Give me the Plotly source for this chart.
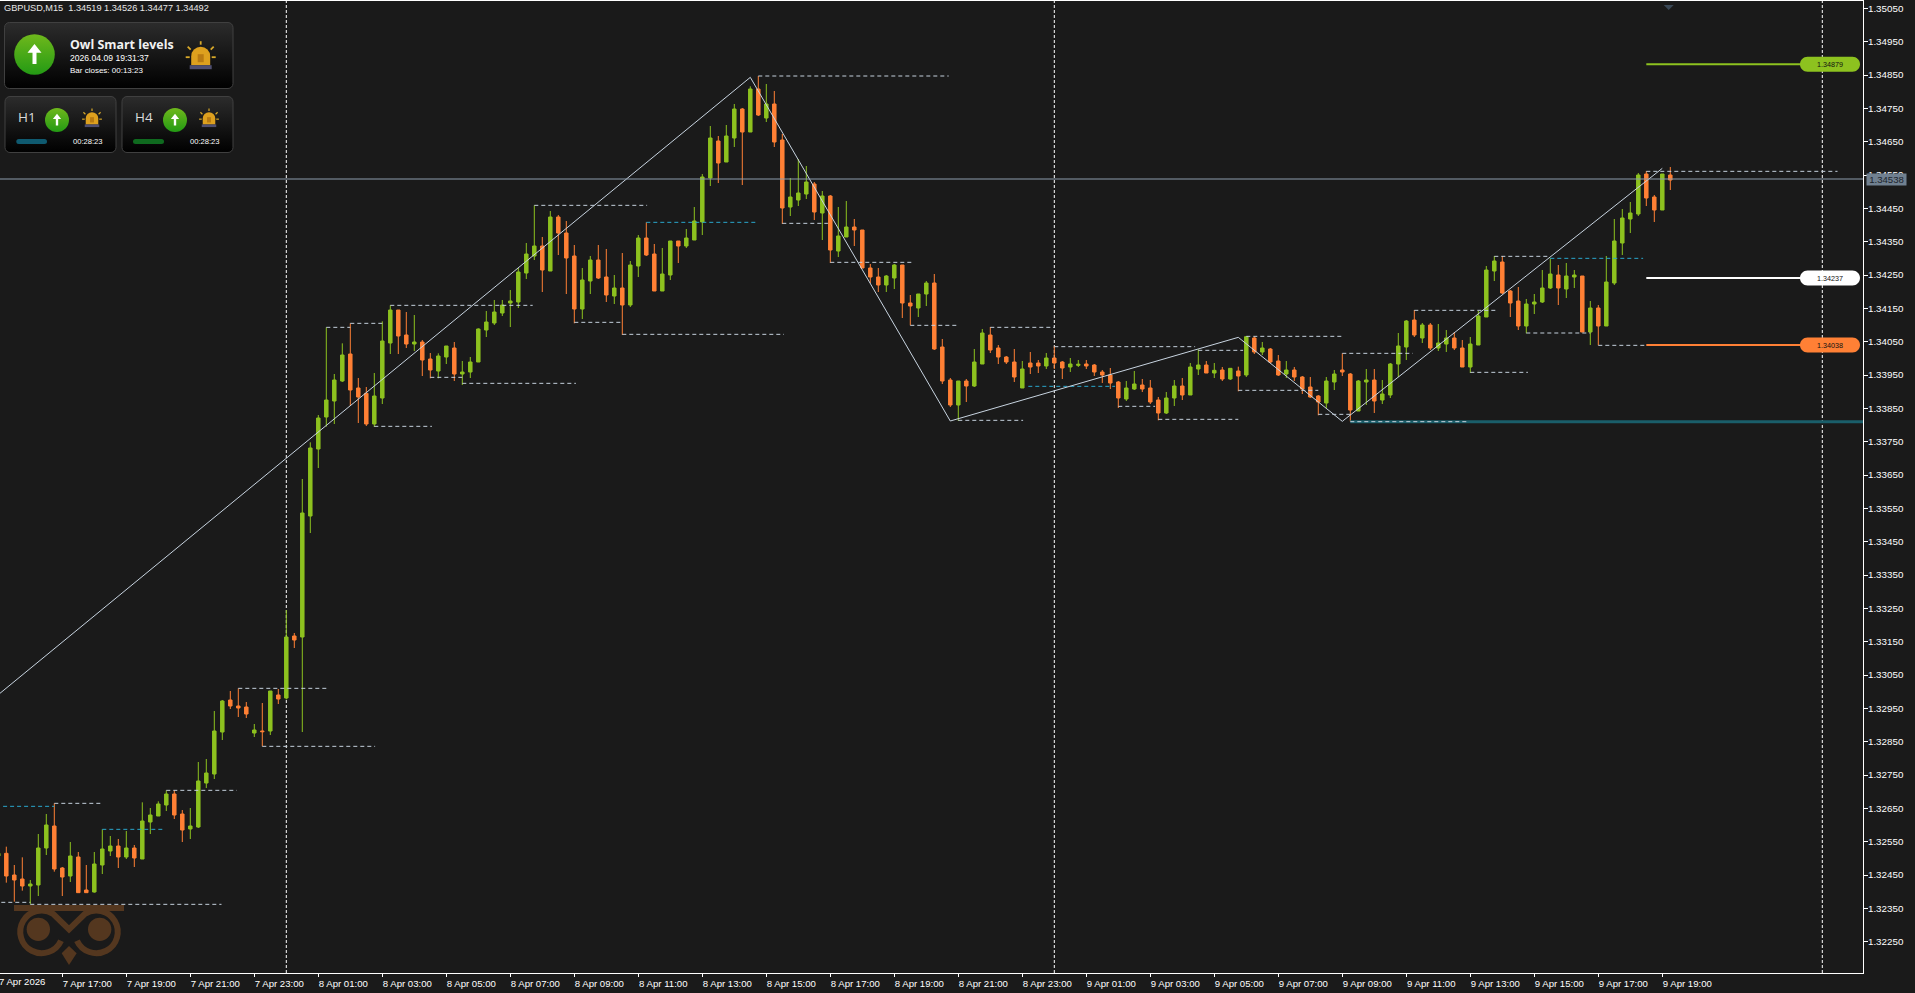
import base64
import pandas as pd
import plotly.graph_objects as go

# ---------- data (GBPUSD M15 bars, first bar 7 Apr 15:00) ----------
opens = [1.32507,1.32515,1.32450,1.32438,1.32417,1.32420,1.32531,1.32597,1.32471,1.32447,1.32504,1.32405,1.32399,1.32480,1.32522,1.32537,1.32504,1.32531,1.32498,1.32609,1.32627,1.32660,1.32693,1.32633,1.32588,1.32594,1.32726,1.32753,1.32879,1.32975,1.32957,1.32954,1.32876,1.32882,1.32882,1.32990,
1.32981,1.33167,1.33164,1.33527,
1.33728,1.33824,1.33872,1.33932,1.34013,1.33911,1.33895,1.33803,1.33881,1.34046,1.34145,1.34070,1.34043,1.34049,1.33998,1.33962,1.34004,1.34031,1.33953,1.33959,1.33989,1.34085,1.34106,1.34136,1.34166,
1.34169,1.34256,1.34307,1.34337,1.34262,1.34424,1.34376,1.34307,1.34148,1.34232,1.34295,1.34244,1.34187,1.34211,1.34160,1.34277,1.34361,1.34313,1.34202,1.34250,1.34352,1.34337,1.34355,1.34409,1.34541,1.34652,1.34589,1.34661,1.34748,1.34679,1.34808,1.34721,1.34763,1.34655,1.34454,1.34475,1.34493,1.34523,1.34436,1.34487,
1.34322,1.34364,1.34394,1.34385,1.34271,1.34244,1.34220,1.34241,1.34280,1.34166,1.34151,1.34193,1.34226,1.34034,1.33935,1.33860,1.33932,1.33917,1.33983,1.34070,1.34031,1.34004,1.33989,1.33911,1.33986,1.33986,1.33977,1.34001,1.33989,1.33974,1.33979,1.33983,1.33980,1.33959,1.33950,1.33929,1.33878,1.33908,1.33920,1.33911,
1.33875,1.33836,1.33881,1.33917,1.33890,1.33968,1.33980,1.33956,1.33965,1.33938,1.33962,1.33950,1.34061,1.34019,1.34028,1.33992,1.33953,1.33965,1.33944,1.33914,1.33887,1.33866,1.33929,1.33965,1.33953,1.33842,1.33929,1.33935,1.33875,1.33890,1.33983,1.34034,1.34115,1.34061,1.34100,1.34031,1.34043,1.34061,1.34031,
1.33974,1.34040,1.34124,1.34262,1.34289,1.34202,1.34172,1.34097,1.34163,1.34169,1.34211,1.34250,1.34208,1.34244,1.34247,1.34079,1.34151,1.34097,1.34226,1.34346,1.34418,1.34433,1.34553,1.34484,1.34445,1.34550]
highs = [1.32519,1.32535,1.32480,1.32503,1.32435,1.32573,1.32633,1.32665,1.32474,1.32549,1.32519,1.32480,1.32519,1.32587,1.32567,1.32558,1.32582,1.32540,1.32668,1.32651,1.32671,1.32704,1.32704,1.32645,1.32651,1.32789,1.32798,1.32942,1.32975,1.33002,1.33010,1.32969,1.32903,1.32966,1.33002,1.33008,
1.33245,1.33176,1.33638,1.33748,
1.33830,1.34093,1.33953,1.34045,1.34105,1.33941,1.33914,1.33956,1.34111,1.34159,1.34145,1.34139,1.34130,1.34055,1.34016,1.34015,1.34037,1.34049,1.33992,1.34004,1.34090,1.34142,1.34175,1.34175,1.34205,
1.34271,1.34346,1.34459,1.34364,1.34442,1.34430,1.34412,1.34340,1.34271,1.34307,1.34340,1.34328,1.34250,1.34316,1.34292,1.34370,1.34408,1.34343,1.34331,1.34352,1.34352,1.34388,1.34454,1.34553,1.34697,1.34667,1.34700,1.34763,1.34751,1.34816,1.34847,1.34823,1.34802,1.34673,1.34541,1.34598,1.34577,1.34529,1.34502,1.34490,
1.34454,1.34472,1.34418,1.34385,1.34283,1.34271,1.34250,1.34283,1.34280,1.34190,1.34193,1.34232,1.34253,1.34058,1.33941,1.33932,1.33938,1.34028,1.34088,1.34094,1.34040,1.34007,1.34028,1.33992,1.34019,1.33995,1.34016,1.34037,1.33992,1.34001,1.33995,1.33995,1.33983,1.33965,1.33971,1.33932,1.33932,1.33962,1.33938,1.33935,
1.33884,1.33899,1.33935,1.33941,1.33986,1.34027,1.33992,1.33986,1.33974,1.33971,1.33975,1.34067,1.34065,1.34049,1.34031,1.34010,1.33992,1.33974,1.33947,1.33944,1.33890,1.33944,1.33965,1.34015,1.33956,1.33935,1.33968,1.33968,1.33935,1.33986,1.34076,1.34115,1.34145,1.34106,1.34106,1.34103,1.34085,1.34079,1.34055,
1.34064,1.34142,1.34277,1.34307,1.34307,1.34205,1.34214,1.34178,1.34193,1.34265,1.34300,1.34280,1.34286,1.34265,1.34247,1.34172,1.34160,1.34307,1.34418,1.34448,1.34469,1.34556,1.34562,1.34490,1.34553,1.34574]
lows = [1.32455,1.32427,1.32370,1.32403,1.32362,1.32387,1.32510,1.32460,1.32387,1.32429,1.32397,1.32397,1.32397,1.32453,1.32507,1.32471,1.32498,1.32474,1.32498,1.32573,1.32627,1.32642,1.32618,1.32549,1.32558,1.32591,1.32711,1.32738,1.32855,1.32948,1.32924,1.32921,1.32864,1.32836,1.32870,1.32963,
1.32977,1.33131,1.32879,1.33476,
1.33671,1.33795,1.33803,1.33929,1.33857,1.33806,1.33797,1.33794,1.33863,1.34013,1.34013,1.34031,1.34022,1.33947,1.33940,1.33940,1.33983,1.33932,1.33920,1.33941,1.33989,1.34064,1.34100,1.34127,1.34094,
1.34151,1.34238,1.34295,1.34199,1.34262,1.34310,1.34193,1.34105,1.34118,1.34193,1.34238,1.34169,1.34163,1.34070,1.34154,1.34244,1.34307,1.34202,1.34202,1.34235,1.34286,1.34331,1.34355,1.34370,1.34517,1.34526,1.34589,1.34634,1.34520,1.34679,1.34727,1.34709,1.34634,1.34403,1.34427,1.34457,1.34478,1.34415,1.34355,1.34286,
1.34304,1.34364,1.34337,1.34271,1.34226,1.34199,1.34199,1.34208,1.34121,1.34099,1.34124,1.34157,1.34025,1.33923,1.33854,1.33812,1.33869,1.33914,1.33983,1.34016,1.33983,1.33983,1.33929,1.33911,1.33953,1.33956,1.33968,1.33968,1.33938,1.33959,1.33974,1.33968,1.33947,1.33926,1.33908,1.33851,1.33872,1.33905,1.33899,1.33863,
1.33814,1.33833,1.33857,1.33875,1.33890,1.33950,1.33956,1.33941,1.33932,1.33935,1.33901,1.33944,1.34013,1.34010,1.33986,1.33947,1.33941,1.33932,1.33893,1.33881,1.33829,1.33851,1.33905,1.33947,1.33811,1.33842,1.33860,1.33836,1.33863,1.33881,1.33944,1.33995,1.34064,1.34046,1.34025,1.34022,1.34019,1.34025,1.33974,
1.33956,1.34040,1.34124,1.34232,1.34193,1.34124,1.34085,1.34075,1.34133,1.34166,1.34208,1.34160,1.34181,1.34211,1.34079,1.34040,1.34039,1.34097,1.34220,1.34310,1.34376,1.34427,1.34457,1.34409,1.34445,1.34505]
closes = [1.32515,1.32447,1.32435,1.32417,1.32423,1.32531,1.32600,1.32468,1.32444,1.32507,1.32397,1.32397,1.32483,1.32528,1.32537,1.32504,1.32531,1.32501,1.32612,1.32630,1.32663,1.32693,1.32630,1.32585,1.32597,1.32732,1.32756,1.32882,1.32972,1.32957,1.32951,1.32933,1.32885,1.32880,1.33002,1.32978,
1.33164,1.33155,1.33536,1.33731,
1.33821,1.33875,1.33935,1.34010,1.33905,1.33884,1.33803,1.33887,1.34052,1.34145,1.34067,1.34043,1.34049,1.33995,1.33965,1.34007,1.34037,1.33953,1.33959,1.33989,1.34088,1.34109,1.34139,1.34160,1.34172,
1.34259,1.34313,1.34337,1.34265,1.34424,1.34376,1.34301,1.34148,1.34235,1.34295,1.34241,1.34190,1.34211,1.34160,1.34280,1.34361,1.34310,1.34202,1.34253,1.34352,1.34337,1.34361,1.34412,1.34544,1.34661,1.34586,1.34667,1.34748,1.34679,1.34808,1.34730,1.34763,1.34649,1.34451,1.34484,1.34496,1.34529,1.34439,1.34487,1.34325,
1.34367,1.34394,1.34385,1.34271,1.34244,1.34220,1.34247,1.34280,1.34166,1.34157,1.34193,1.34226,1.34028,1.33932,1.33860,1.33932,1.33917,1.33989,1.34076,1.34025,1.34004,1.33989,1.33944,1.33968,1.33974,1.33977,1.34001,1.33986,1.33971,1.33983,1.33982,1.33977,1.33959,1.33950,1.33926,1.33881,1.33911,1.33923,1.33908,1.33869,
1.33836,1.33881,1.33917,1.33890,1.33974,1.33980,1.33956,1.33964,1.33938,1.33970,1.33947,1.34065,1.34019,1.34031,1.33989,1.33950,1.33965,1.33944,1.33908,1.33884,1.33869,1.33932,1.33953,1.33959,1.33845,1.33932,1.33935,1.33872,1.33893,1.33983,1.34037,1.34112,1.34070,1.34100,1.34031,1.34046,1.34061,1.34031,1.33974,
1.34043,1.34127,1.34265,1.34292,1.34196,1.34166,1.34097,1.34163,1.34169,1.34211,1.34253,1.34211,1.34247,1.34250,1.34079,1.34151,1.34097,1.34229,1.34352,1.34421,1.34436,1.34550,1.34481,1.34445,1.34553,1.34535]

# zigzag: bar number (first bar counted as -1) and price
zigzag_bars = [-1, 93, 118, 154, 167, 207]
zigzag_prices = [1.32991, 1.34843, 1.33812, 1.34063, 1.33811, 1.34570]

# dashed swing levels: start bar, end bar, price
level_starts = [-5, 3, 6, 20, 29, 32, 40, 43, 48, 46, 53, 57, 71, 66, 77, 94, 97, 103, 113, 119, 123, 131, 139, 149, 155, 154, 144, 164, 167, 176, 183, 186, 190, 199, 205, 168]
level_ends = [3, 26.9, 11.8, 28.8, 40.1, 46.1, 43, 47.1, 65.8, 53.2, 57, 71.2, 76.8, 80.1, 97.2, 117.8, 102.7, 113.2, 118.8, 127.1, 131, 148.6, 143.6, 154.6, 166.9, 164, 154, 168, 175.8, 186.2, 190.2, 193, 198, 205, 228.9, 182.8]
level_prices = [1.32368, 1.32362, 1.32665, 1.32704, 1.33010, 1.32836, 1.34093, 1.34105, 1.34159, 1.33796, 1.33943, 1.33925, 1.34108, 1.34459, 1.34072, 1.34847, 1.34405, 1.34288, 1.34099, 1.33814, 1.34093, 1.34035, 1.33856, 1.34024, 1.34066, 1.33904, 1.33817, 1.33832, 1.34015, 1.34144, 1.33958, 1.34306, 1.34076, 1.34039, 1.34561, 1.33810]
cyan_starts = [-0.4, 12, 80, 127.75, 193]
cyan_ends = [6, 19.84, 93.8, 138.6, 204.6]
cyan_prices = [1.32656, 1.32587, 1.34408, 1.33916, 1.34300]

# right-hand target levels
target_prices = [1.34882, 1.34241, 1.34040]
target_labels = ["1.34879", "1.34237", "1.34038"]
target_colors = ["#8DC21F", "#FFFFFF", "#FF8035"]
teal_price = 1.33810
current_price = 1.34538

tick_labels = ["7 Apr 17:00","7 Apr 19:00","7 Apr 21:00","7 Apr 23:00","8 Apr 01:00","8 Apr 03:00","8 Apr 05:00","8 Apr 07:00","8 Apr 09:00","8 Apr 11:00","8 Apr 13:00","8 Apr 15:00","8 Apr 17:00","8 Apr 19:00","8 Apr 21:00","8 Apr 23:00","9 Apr 01:00","9 Apr 03:00","9 Apr 05:00","9 Apr 07:00","9 Apr 09:00","9 Apr 11:00","9 Apr 13:00","9 Apr 15:00","9 Apr 17:00","9 Apr 19:00"]
tick_times = ["2026-04-07 17:00","2026-04-07 19:00","2026-04-07 21:00","2026-04-07 23:00","2026-04-08 01:00","2026-04-08 03:00","2026-04-08 05:00","2026-04-08 07:00","2026-04-08 09:00","2026-04-08 11:00","2026-04-08 13:00","2026-04-08 15:00","2026-04-08 17:00","2026-04-08 19:00","2026-04-08 21:00","2026-04-08 23:00","2026-04-09 01:00","2026-04-09 03:00","2026-04-09 05:00","2026-04-09 07:00","2026-04-09 09:00","2026-04-09 11:00","2026-04-09 13:00","2026-04-09 15:00","2026-04-09 17:00","2026-04-09 19:00"]
day_separators = ["2026-04-08 00:00", "2026-04-09 00:00", "2026-04-10 00:00"]

# ---------- layout constants ----------
W, H = 1915, 993
PL, PR, PT, PB = 0, 1863, 1, 973
BG = "#1A1A1A"
GREEN, ORANGE = "#8DC21F", "#FF8035"
LEVEL_COL, CYAN = "#C4D0DC", "#2AA6CC"
FONT = "Liberation Sans"


def bar_time(b):
    return pd.Timestamp("2026-04-07 15:15") + pd.Timedelta(minutes=15 * b)


def iso(b):
    return bar_time(b).strftime("%Y-%m-%d %H:%M:%S")


def px(x):
    return x / PR


def py(y):
    return (PB - y) / (PB - PT)


times = pd.date_range("2026-04-07 15:00", periods=len(opens), freq="15min")

fig = go.Figure()
fig.add_trace(go.Candlestick(
    x=times, open=opens, high=highs, low=lows, close=closes, whiskerwidth=0,
    increasing=dict(line=dict(color=GREEN, width=1), fillcolor=GREEN),
    decreasing=dict(line=dict(color=ORANGE, width=1), fillcolor=ORANGE),
    showlegend=False, hoverinfo="skip"))


def segments(starts, ends, prices):
    xs, ys = [], []
    for a, b, p in zip(starts, ends, prices):
        xs += [iso(a), iso(b), None]
        ys += [p, p, None]
    return xs, ys


# teal support line under the levels
fig.add_trace(go.Scatter(x=[iso(168), iso(240)], y=[teal_price] * 2, mode="lines",
                         line=dict(color="#1A5E6A", width=3), showlegend=False, hoverinfo="skip"))
lx, ly = segments(level_starts, level_ends, level_prices)
fig.add_trace(go.Scatter(x=lx, y=ly, mode="lines", line=dict(color=LEVEL_COL, width=1, dash="4px,3px"),
                         showlegend=False, hoverinfo="skip"))
cx, cy = segments(cyan_starts, cyan_ends, cyan_prices)
fig.add_trace(go.Scatter(x=cx, y=cy, mode="lines", line=dict(color=CYAN, width=1, dash="4px,3px"),
                         showlegend=False, hoverinfo="skip"))
fig.add_trace(go.Scatter(x=[iso(b) for b in zigzag_bars], y=zigzag_prices, mode="lines",
                         line=dict(color="#C8D4E0", width=1), showlegend=False, hoverinfo="skip"))
fig.add_trace(go.Scatter(x=[iso(-5), iso(240)], y=[current_price] * 2, mode="lines",
                         line=dict(color="#8C9CAC", width=1), showlegend=False, hoverinfo="skip"))
for p, col in zip(target_prices, target_colors):
    fig.add_trace(go.Scatter(x=[iso(205), iso(225)], y=[p, p], mode="lines",
                             line=dict(color=col, width=2), showlegend=False, hoverinfo="skip"))

shapes = []
for d in day_separators:
    shapes.append(dict(type="line", xref="x", yref="paper", x0=d, x1=d, y0=0, y1=1, layer="below",
                       line=dict(color="#FFFFFF", width=1, dash="3px,2px")))

PILL = ("M -22.5 -7.5 L 22.5 -7.5 C 26.6 -7.5 30 -4.1 30 0 C 30 4.1 26.6 7.5 22.5 7.5 "
        "L -22.5 7.5 C -26.6 7.5 -30 4.1 -30 0 C -30 -4.1 -26.6 -7.5 -22.5 -7.5 Z")
annotations = []
pill_bar = 227.96
for p, col, label in zip(target_prices, target_colors, target_labels):
    shapes.append(dict(type="path", xsizemode="pixel", ysizemode="pixel", xref="x", yref="y",
                       xanchor=iso(pill_bar), yanchor=p, path=PILL, fillcolor=col, line=dict(width=0), layer="above"))
    annotations.append(dict(x=iso(pill_bar), y=p, xref="x", yref="y", text=label, showarrow=False,
                            font=dict(family=FONT, size=7.2, color="#111111")))
# small marker at the top of the chart
shapes.append(dict(type="path", xsizemode="pixel", ysizemode="pixel", xref="x", yref="y",
                   xanchor=iso(207.8), yanchor=1.35060, path="M -5 0 L 5 0 L 0 -5 Z",
                   fillcolor="#3A4856", line=dict(width=0), layer="above"))


def note(x, y, text, size, color="#FFFFFF", bold=False, family=FONT):
    annotations.append(dict(xref="paper", yref="paper", x=px(x), y=py(y), text=f"<b>{text}</b>" if bold else text,
                            showarrow=False, xanchor="left", yanchor="middle", align="left",
                            font=dict(family=family, size=size, color=color), xshift=0, borderpad=0))


note(3, 8.3, "GBPUSD,M15  1.34519 1.34526 1.34477 1.34492", 9.2, "#E6E6E6")
note(69, 44.3, "Owl Smart levels", 12.4, "#F2F2F2", True, "Open Sans")
note(69, 58, "2026.04.09 19:31:37", 8.6)
note(69, 71, "Bar closes: 00:13:23", 8)
note(17, 117, "H1", 13.5, "#DADADA", False, "Open Sans")
note(134, 117, "H4", 13.5, "#DADADA", False, "Open Sans")
note(71.5, 142, "00:28:23", 7.6)
note(189, 142, "00:28:23", 7.6)
note(-2, 981.5, "7 Apr 2026", 9.6, "#FFFFFF")
annotations.append(dict(xref="paper", yref="y", x=px(1866), y=current_price, text="1.34538", showarrow=False,
                        xanchor="left", yanchor="middle", width=39, height=11, align="center", borderpad=0,
                        bgcolor="#708090", font=dict(family=FONT, size=9.6, color="#1C242C")))


def beacon(cx, cy, s):
    ray = f'stroke="#D8A92A" stroke-width="{1.8*s}"'
    return (f'<path d="M{cx-9.5*s} {cy+9*s} L{cx-9.5*s} {cy} A{9.5*s} {9.5*s} 0 0 1 {cx+9.5*s} {cy} L{cx+9.5*s} {cy+9*s} Z" fill="#DDA01E"/>'
            f'<rect x="{cx-3*s}" y="{cy-2*s}" width="{6*s}" height="{8*s}" fill="#B87A12"/>'
            f'<rect x="{cx-11*s}" y="{cy+9*s}" width="{22*s}" height="{4*s}" fill="#4F4F70"/>'
            f'<line x1="{cx}" y1="{cy-15*s}" x2="{cx}" y2="{cy-11.5*s}" {ray}/>'
            f'<line x1="{cx-13*s}" y1="{cy-9.5*s}" x2="{cx-10*s}" y2="{cy-6.5*s}" {ray}/>'
            f'<line x1="{cx+13*s}" y1="{cy-9.5*s}" x2="{cx+10*s}" y2="{cy-6.5*s}" {ray}/>'
            f'<line x1="{cx-15*s}" y1="{cy+1*s}" x2="{cx-11*s}" y2="{cy+1*s}" {ray}/>'
            f'<line x1="{cx+15*s}" y1="{cy+1*s}" x2="{cx+11*s}" y2="{cy+1*s}" {ray}/>')


def arrow_circle(cx, cy, r):
    k = r / 20.3
    return (f'<circle cx="{cx}" cy="{cy}" r="{r}" fill="url(#g)"/>'
            f'<path d="M{cx} {cy-10.5*k} L{cx+7*k} {cy-1.8*k} L{cx+2*k} {cy-1.8*k} L{cx+2*k} {cy+9.5*k} '
            f'L{cx-2*k} {cy+9.5*k} L{cx-2*k} {cy-1.8*k} L{cx-7*k} {cy-1.8*k} Z" fill="#FFFFFF"/>')


panel_svg = (
    '<svg xmlns="http://www.w3.org/2000/svg" width="240" height="140" viewBox="0 20 240 140">'
    '<defs><linearGradient id="c" x1="0" y1="0" x2="0" y2="1"><stop offset="0" stop-color="#2C2C2C"/><stop offset="1" stop-color="#000000"/></linearGradient>'
    '<linearGradient id="g" x1="0" y1="0" x2="0" y2="1"><stop offset="0" stop-color="#6FB81C"/><stop offset="1" stop-color="#239A14"/></linearGradient></defs>'
    '<rect x="4.5" y="22.5" width="228.5" height="66" rx="5" fill="url(#c)" stroke="#404040"/>'
    '<rect x="5" y="96.5" width="111" height="56" rx="5" fill="url(#c)" stroke="#404040"/>'
    '<rect x="122" y="96.5" width="111" height="56" rx="5" fill="url(#c)" stroke="#404040"/>'
    + arrow_circle(34.5, 54.5, 20.3) + arrow_circle(57, 120, 12) + arrow_circle(175, 120, 12)
    + beacon(200.7, 56.2, 1) + beacon(92, 118.5, 0.66) + beacon(209, 118.5, 0.66)
    + '<rect x="16.3" y="139" width="30.7" height="5" rx="2.5" fill="#0F5A70"/>'
      '<rect x="133" y="139" width="31" height="5" rx="2.5" fill="#0F6A1F"/></svg>')

owl_svg = (
    '<svg xmlns="http://www.w3.org/2000/svg" width="110" height="60" viewBox="42 795 330 180">'
    '<rect x="42" y="795" width="330" height="18" fill="#54371F"/>'
    '<path d="M183 902 A64 64 0 1 1 160 822 L207 868 L254 822 A64 64 0 1 1 231 902" fill="none" stroke="#54371F" stroke-width="18"/>'
    '<circle cx="115" cy="868" r="35" fill="#54371F"/><circle cx="299" cy="868" r="35" fill="#54371F"/>'
    '<path d="M185 940 L207 918 L230 940 L207 975 Z" fill="#54371F"/></svg>')


def data_uri(svg):
    return "data:image/svg+xml;base64," + base64.b64encode(svg.encode()).decode()


images = [
    dict(source=data_uri(panel_svg), xref="paper", yref="paper", x=px(0), y=py(20), sizex=240 / PR,
         sizey=140 / (PB - PT), xanchor="left", yanchor="top", sizing="stretch", layer="above"),
    dict(source=data_uri(owl_svg), xref="paper", yref="paper", x=px(14), y=py(905), sizex=110 / PR,
         sizey=60 / (PB - PT), xanchor="left", yanchor="top", sizing="stretch", layer="above"),
]

fig.update_layout(
    width=W, height=H, margin=dict(l=PL, r=W - PR, t=PT, b=H - PB, pad=0, autoexpand=False),
    paper_bgcolor=BG, plot_bgcolor=BG, boxgap=0.38, showlegend=False,
    shapes=shapes, annotations=annotations, images=images,
    font=dict(family=FONT, color="#FFFFFF", size=9.6),
    xaxis=dict(type="date", range=[iso(-0.7875), iso(232.0875)], rangeslider=dict(visible=False),
               tickmode="array", tickvals=tick_times, ticktext=tick_labels, ticks="outside", ticklen=3,
               tickcolor="#FFFFFF", tickwidth=1, showgrid=False, zeroline=False, showline=True, mirror=True,
               linecolor="#FFFFFF", linewidth=1, ticklabelshift=25, ticklabelstandoff=-2, tickangle=0,
               tickfont=dict(family=FONT, size=9.6, color="#FFFFFF")),
    yaxis=dict(side="right", range=[1.32156, 1.35072], tick0=1.3205, dtick=0.001, tickformat=".5f",
               ticks="outside", ticklen=4, tickcolor="#FFFFFF", tickwidth=1, showgrid=False, zeroline=False,
               showline=True, linecolor="#FFFFFF", linewidth=1, ticklabelstandoff=-2,
               tickfont=dict(family=FONT, size=9.8, color="#FFFFFF")),
)

fig.write_html("out.html", config=dict(displayModeBar=False),
               post_script="document.body.style.margin='0';document.body.style.overflow='hidden';")
